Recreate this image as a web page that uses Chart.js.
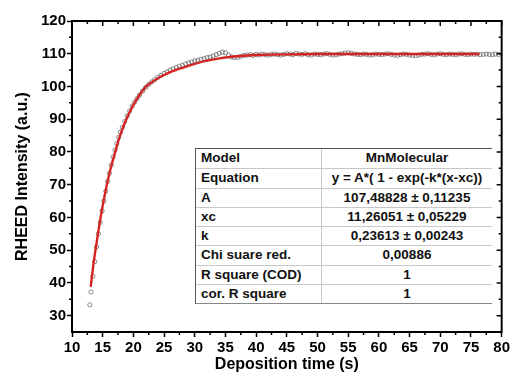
<!DOCTYPE html>
<html lang="en">
<head>
    <meta charset="UTF-8">
    <title>RHEED Intensity</title>
    <script src="https://cdn.jsdelivr.net/npm/chart.js@4/dist/chart.umd.min.js"></script>
    <style>
        body {
            margin: 0;
            background-color: #fff;
        }

        .wrap {
            position: relative;
            width: 512px;
            height: 376px;
        }

        .fit-table {
            position: absolute;
            left: 195px;
            top: 148px;
            width: 296px;
            background-color: #fff;
            border-top: 1px solid #555;
            border-left: 1px solid #555;
            border-bottom: 1px solid #888;
            font-family: 'Liberation Sans', Arial, sans-serif;
            font-weight: bold;
            font-size: 13.5px;
            color: #111;
        }

        .fit-row {
            display: flex;
            box-sizing: border-box;
            height: 19.3px;
            line-height: 18px;
            border-top: 1px solid #c8c8c8;
        }

        .fit-row:first-child {
            border-top: none;
        }

        .fit-label {
            width: 126px;
            padding-left: 5px;
            box-sizing: border-box;
            border-right: 1px solid #c8c8c8;
        }

        .fit-value {
            flex: 1;
            text-align: center;
        }
    </style>
</head>
<body>
    <div class="wrap">
        <canvas id="rheedChart"></canvas>
        <div class="fit-table" id="fitTable"></div>
    </div>
    <script>
        const timeS = [12.9, 13.1, 13.4, 13.7, 14.0, 14.3, 14.6, 14.9, 15.2, 15.5, 15.8, 16.1, 16.4, 16.7, 17.0, 17.3, 17.6, 17.9, 18.2, 18.6,
            19.0, 19.4, 19.8, 20.2, 20.6, 21.0, 21.5, 22.0, 22.5, 23.0, 23.5, 24.0, 24.5, 25.0, 25.5, 26.0, 26.5, 27.0, 27.5, 28.0,
            28.5, 29.0, 29.5, 30.0, 30.5, 31.0, 31.5, 32.0, 32.5, 33.0, 33.5, 34.0, 34.5, 35.0, 35.5, 36.0, 36.5, 37.0, 37.5, 38.0,
            38.5, 39.0, 39.5, 40.0, 40.5, 41.0, 41.5, 42.0, 42.5, 43.0, 43.5, 44.0, 44.5, 45.0, 45.5, 46.0, 46.5, 47.0, 47.5, 48.0,
            48.5, 49.0, 49.5, 50.0, 50.5, 51.0, 51.5, 52.0, 52.5, 53.0, 53.5, 54.0, 54.5, 55.0, 55.5, 56.0, 56.5, 57.0, 57.5, 58.0,
            58.5, 59.0, 59.5, 60.0, 60.5, 61.0, 61.5, 62.0, 62.5, 63.0, 63.5, 64.0, 64.5, 65.0, 65.5, 66.0, 66.5, 67.0, 67.5, 68.0,
            68.5, 69.0, 69.5, 70.0, 70.5, 71.0, 71.5, 72.0, 72.5, 73.0, 73.5, 74.0, 74.5, 75.0, 75.5, 76.0, 76.5, 77.0, 77.5, 78.0,
            78.5, 79.0, 79.5];
        const intensity = [33.3, 37.2, 42.0, 46.5, 51.0, 55.0, 58.5, 62.0, 65.0, 68.0, 71.0, 73.5, 76.0, 78.5, 80.6, 82.6, 84.4, 86.0, 87.5, 89.3,
            91.0, 92.5, 94.0, 95.2, 96.3, 97.4, 98.6, 99.7, 100.6, 101.4, 102.1, 102.8, 103.4, 104.0, 104.5, 105.0, 105.4, 105.8, 106.2, 106.5,
            106.9, 107.2, 107.5, 107.8, 108.0, 108.3, 108.5, 108.8, 109.0, 109.3, 109.7, 110.1, 110.5, 110.3, 109.6, 109.0, 108.8, 108.9, 109.2, 109.5,
            109.6, 109.7, 109.5, 109.8, 109.6, 109.9, 109.7, 109.6, 109.8, 109.9, 109.7, 109.6, 109.8, 110.0, 109.9, 109.7, 110.1, 109.9, 109.8, 110.0,
            109.7, 109.6, 109.9, 109.8, 109.7, 109.9, 110.0, 109.8, 109.6, 109.7, 109.9, 110.0, 110.2, 110.3, 110.1, 109.9, 109.8, 109.7, 109.9, 109.8,
            109.6, 109.7, 109.9, 109.8, 109.7, 109.9, 110.0, 109.8, 109.6, 109.5, 109.7, 109.9, 109.8, 109.6, 109.5, 109.4, 109.6, 109.8, 109.9, 110.0,
            109.8, 109.7, 109.9, 110.0, 109.8, 109.7, 109.9, 109.8, 109.7, 109.9, 110.0, 109.8, 109.7, 109.9, 109.8, 109.9, 109.7, 109.8, 109.9, 109.8,
            109.7, 109.9, 109.8];

        // fitted curve
        const fitTime = [13.05, 13.5, 14, 14.5, 15, 15.5, 16, 16.5, 17, 17.5, 18, 18.5, 19, 19.5, 20, 21, 22, 23, 24, 25,
            26, 27, 28, 30, 32, 34, 36, 38, 40, 45, 50, 55, 60, 65, 70, 76.4];
        const fitIntensity = [38.8, 45.8, 52.2, 58.2, 63.6, 68.4, 72.7, 76.4, 79.7, 83.1, 85.9, 88.4, 90.6, 92.6, 94.4, 97.4, 99.9, 101.3, 102.5, 103.5,
            104.4, 105.1, 105.7, 106.9, 107.9, 108.6, 109.1, 109.4, 109.6, 109.8, 109.9, 109.9, 109.9, 109.9, 109.9, 109.9];

        const xTicks = [10, 15, 20, 25, 30, 35, 40, 45, 50, 55, 60, 65, 70, 75, 80];
        const yTicks = [30, 40, 50, 60, 70, 80, 90, 100, 110, 120];

        const tableLabels = ['Model', 'Equation', 'A', 'xc', 'k', 'Chi suare red.', 'R square (COD)', 'cor. R square'];
        const tableValues = ['MnMolecular', 'y = A*( 1 - exp(-k*(x-xc))', '107,48828 \u00b1 0,11235', '11,26051 \u00b1 0,05229',
            '0,23613 \u00b1 0,00243', '0,00886', '1', '1'];

        const fitTable = document.getElementById('fitTable');
        tableLabels.forEach((label, i) => {
            const row = document.createElement('div');
            row.className = 'fit-row';
            const l = document.createElement('div');
            l.className = 'fit-label';
            l.textContent = label;
            const v = document.createElement('div');
            v.className = 'fit-value';
            v.textContent = tableValues[i];
            row.appendChild(l);
            row.appendChild(v);
            fitTable.appendChild(row);
        });

        const axisFont = { family: "'Liberation Sans', Arial, sans-serif", size: 15, weight: 'bold' };
        const titleFont = { family: "'Liberation Sans', Arial, sans-serif", size: 16, weight: 'bold' };

        // closed frame with inward ticks on top/right and minor ticks everywhere
        const frameTicks = {
            id: 'frameTicks',
            afterDraw(chart) {
                const { ctx, chartArea: a, scales: { x, y } } = chart;
                ctx.save();
                ctx.strokeStyle = '#000';
                ctx.lineWidth = 2;
                ctx.strokeRect(a.left, a.top, a.right - a.left, a.bottom - a.top);
                ctx.lineWidth = 1.5;
                ctx.beginPath();
                xTicks.forEach((v, i) => {
                    const px = x.getPixelForValue(v);
                    ctx.moveTo(px, a.top);
                    ctx.lineTo(px, a.top + 5);
                    if (i < xTicks.length - 1) {
                        const m = x.getPixelForValue((v + xTicks[i + 1]) / 2);
                        ctx.moveTo(m, a.top);
                        ctx.lineTo(m, a.top + 3);
                        ctx.moveTo(m, a.bottom);
                        ctx.lineTo(m, a.bottom + 3);
                    }
                });
                yTicks.forEach((v, i) => {
                    const py = y.getPixelForValue(v);
                    ctx.moveTo(a.right, py);
                    ctx.lineTo(a.right - 5, py);
                    if (i < yTicks.length - 1) {
                        const m = y.getPixelForValue((v + yTicks[i + 1]) / 2);
                        ctx.moveTo(a.right, m);
                        ctx.lineTo(a.right - 3, m);
                        ctx.moveTo(a.left, m);
                        ctx.lineTo(a.left - 3, m);
                    }
                });
                ctx.stroke();
                ctx.restore();
            }
        };

        const ctx = document.getElementById('rheedChart').getContext('2d');
        new Chart(ctx, {
            type: 'scatter',
            data: {
                datasets: [{
                    type: 'line',
                    label: 'Fit',
                    data: fitTime.map((t, i) => ({ x: t, y: fitIntensity[i] })),
                    borderColor: '#d42424',
                    borderWidth: 2.4,
                    pointRadius: 0,
                    tension: 0.3,
                    fill: false,
                    order: 0
                }, {
                    label: 'RHEED',
                    data: timeS.map((t, i) => ({ x: t, y: intensity[i] })),
                    pointStyle: 'circle',
                    pointRadius: 2.1,
                    borderWidth: 0.7,
                    borderColor: '#5a5a5a',
                    backgroundColor: 'rgba(0,0,0,0)',
                    order: 1
                }]
            },
            options: {
                responsive: true,
                maintainAspectRatio: false,
                animation: false,
                layout: { padding: { top: 21, right: 8, left: 0, bottom: 0 } },
                plugins: {
                    legend: { display: false },
                    tooltip: { enabled: false }
                },
                scales: {
                    x: {
                        type: 'linear',
                        min: 10,
                        max: 80,
                        afterBuildTicks: s => { s.ticks = xTicks.map(v => ({ value: v })); },
                        afterFit: s => { s.height = 44; },
                        ticks: { font: axisFont, color: '#000', padding: 2, maxRotation: 0, autoSkip: false },
                        grid: { drawOnChartArea: false, tickLength: 5, tickWidth: 1.5, tickColor: '#000' },
                        border: { display: true, color: '#000', width: 2 },
                        title: { display: true, text: 'Deposition time (s)', font: titleFont, color: '#000', padding: { top: 0, bottom: 2 } }
                    },
                    y: {
                        type: 'linear',
                        min: 25,
                        max: 120,
                        afterBuildTicks: s => { s.ticks = yTicks.map(v => ({ value: v })); },
                        afterFit: s => { s.width = 72; },
                        ticks: { font: axisFont, color: '#000', padding: 1 },
                        grid: { drawOnChartArea: false, tickLength: 5, tickWidth: 1.5, tickColor: '#000' },
                        border: { display: true, color: '#000', width: 2 },
                        title: { display: true, text: 'RHEED Intensity (a.u.)', font: titleFont, color: '#000', padding: { top: 13, bottom: 0 } }
                    }
                }
            },
            plugins: [frameTicks]
        });
    </script>
</body>
</html>
